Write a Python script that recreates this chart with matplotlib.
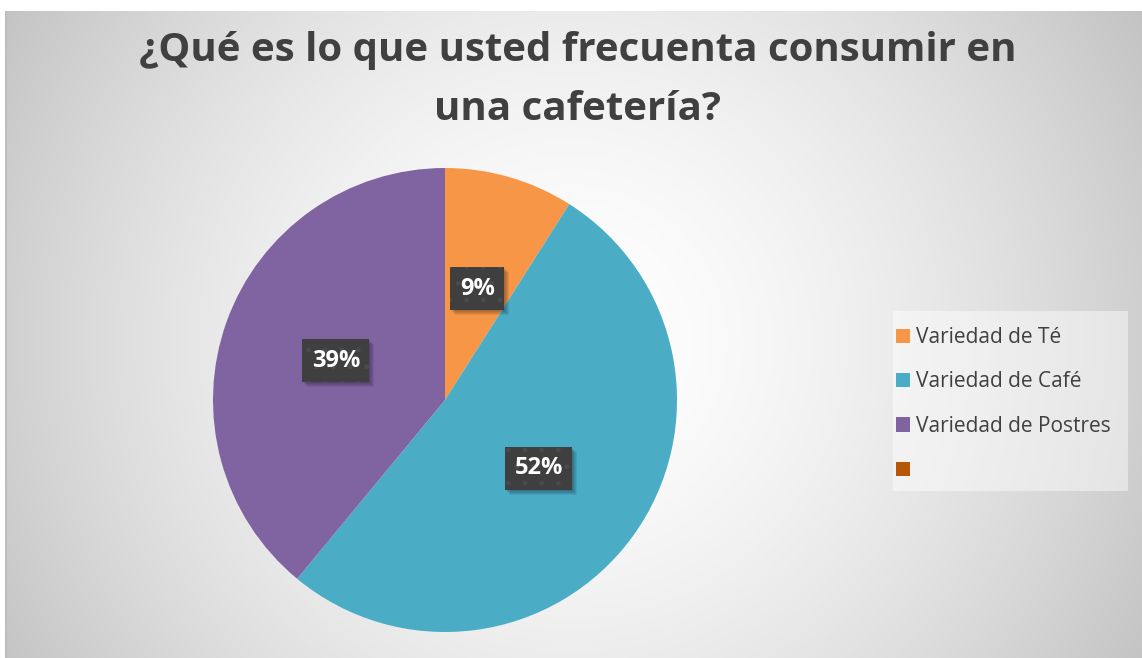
import numpy as np
import matplotlib.pyplot as plt
from matplotlib.patches import Patch, Rectangle
from matplotlib.transforms import IdentityTransform

# survey answers
categorias = ["Variedad de Té", "Variedad de Café", "Variedad de Postres"]
porcentajes = [9, 52, 39]
colores = ["#F79646", "#4BACC6", "#8064A2"]
color_vacio = "#B65708"
titulo = "¿Qué es lo que usted frecuenta consumir en\nuna cafetería?"

W, H = 1142, 658
fig = plt.figure(figsize=(W / 100, H / 100), dpi=100)
fig.patch.set_facecolor("white")

# radial grey background of the chart area
bg = fig.add_axes([5 / W, 0, 1 - 5 / W, 647 / H])
bg.set_axis_off()
nx, ny = W - 5, 647
xx, yy = np.meshgrid(np.arange(nx), np.arange(ny))
d = np.hypot(xx - 565, yy - 330) / 650.0
g = 1.0 - 0.23 * np.clip(d, 0, 1.1) ** 1.6
bg.imshow(np.dstack([g, g, g]), aspect="auto", extent=(0, nx, ny, 0), interpolation="bilinear")
bg.axvline(0.5, color="#bdbdbd", lw=1.5)

fig.text(578 / W, 1 - 80 / H, titulo, ha="center", va="center", fontsize=29,
         fontweight="bold", family="Open Sans", color="#404040", linespacing=1.68)

# pie
R = 232
ax = fig.add_axes([(445 - R) / W, (H - 400 - R) / H, 2 * R / W, 2 * R / H])
ax.set_axis_off()
wedges, _, autotexts = ax.pie(
    porcentajes, colors=colores, startangle=90, counterclock=False,
    autopct="%1.0f%%", pctdistance=0.5, radius=1,
    wedgeprops=dict(linewidth=0),
    textprops=dict(color="white", fontsize=17, fontweight="bold", family="Open Sans"),
)
ax.set_xlim(-1, 1)
ax.set_ylim(-1, 1)
ax.set_aspect("equal")

for t in autotexts:
    t.set_zorder(5)
    t.set_bbox(dict(boxstyle="square,pad=0.4", fc="#3f3f3f", ec="#4b4b4b", lw=0, hatch="."))

# soft shadow under each label box: a few faint offset rectangles in pixel space
fig.canvas.draw()
for t in autotexts:
    bb = t.get_bbox_patch().get_window_extent()
    for o in (1, 2, 3, 4, 5):
        ax.add_patch(Rectangle((bb.x0 + o, bb.y0 - o), bb.width, bb.height,
                               transform=IdentityTransform(), fc="black", alpha=0.07,
                               lw=0, zorder=4))

# legend box and entries, including the trailing empty one
fig.patches.append(Rectangle((893 / W, 1 - 491 / H), 235 / W, 180 / H,
                             transform=fig.transFigure, fc="white", alpha=0.45, lw=0))
handles = [Patch(facecolor=c, edgecolor="none") for c in colores + [color_vacio]]
labels = categorias + [""]
leg = fig.legend(handles, labels, loc="upper left", bbox_to_anchor=(896 / W, 1 - 327 / H),
                 frameon=False, handlelength=0.68, handleheight=0.68, handletextpad=0.3,
                 labelspacing=1.12, borderpad=0, borderaxespad=0,
                 prop=dict(family="Open Sans", size=15))
for txt in leg.get_texts():
    txt.set_color("#404040")

fig.savefig("out.png", dpi=100)
